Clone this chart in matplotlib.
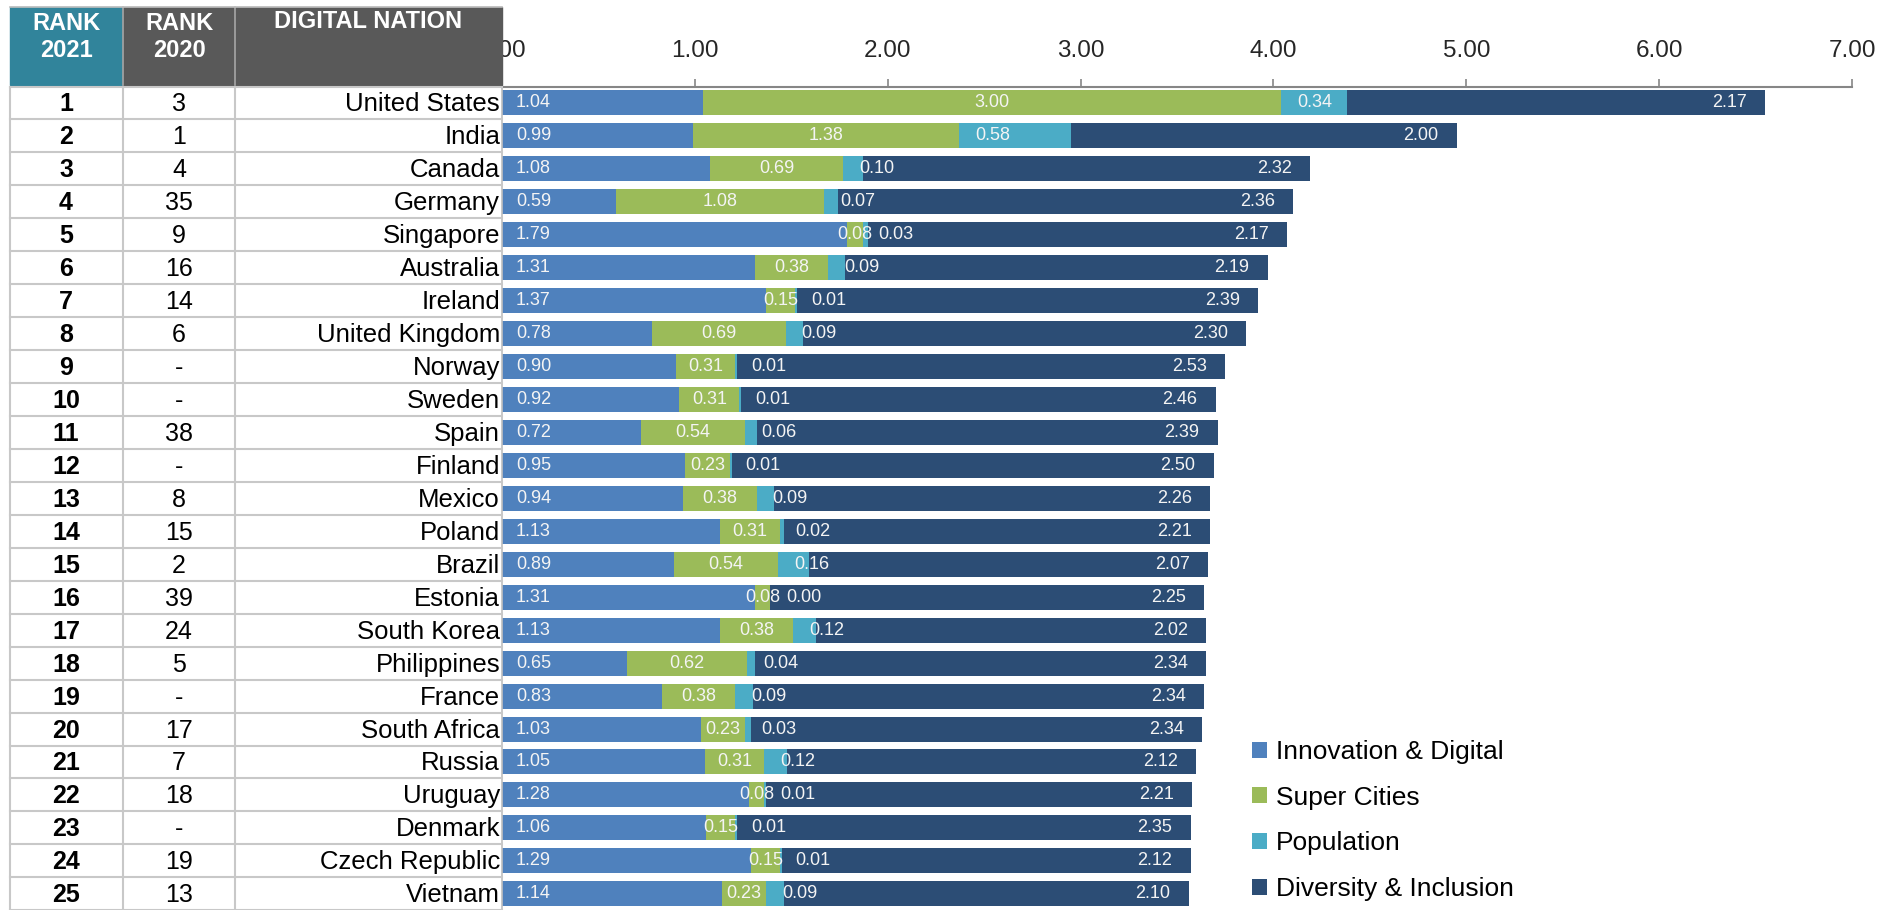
# Digital nations 2021 - stacked score bars with rank table

import numpy as np
import matplotlib.pyplot as plt
from matplotlib.patches import Rectangle
from matplotlib.ticker import FormatStrFormatter

# ---- data ----
rank_2021 = [1, 2, 3, 4, 5, 6, 7, 8, 9, 10, 11, 12, 13,
             14, 15, 16, 17, 18, 19, 20, 21, 22, 23, 24, 25]
rank_2020 = ["3", "1", "4", "35", "9", "16", "14", "6", "-", "-", "38", "-", "8",
             "15", "2", "39", "24", "5", "-", "17", "7", "18", "-", "19", "13"]
nations = ["United States", "India", "Canada", "Germany", "Singapore", "Australia",
           "Ireland", "United Kingdom", "Norway", "Sweden", "Spain", "Finland",
           "Mexico", "Poland", "Brazil", "Estonia", "South Korea", "Philippines",
           "France", "South Africa", "Russia", "Uruguay", "Denmark",
           "Czech Republic", "Vietnam"]

innovation = [1.04, 0.99, 1.08, 0.59, 1.79, 1.31, 1.37, 0.78, 0.90, 0.92, 0.72, 0.95, 0.94,
              1.13, 0.89, 1.31, 1.13, 0.65, 0.83, 1.03, 1.05, 1.28, 1.06, 1.29, 1.14]
super_cities = [3.00, 1.38, 0.69, 1.08, 0.08, 0.38, 0.15, 0.69, 0.31, 0.31, 0.54, 0.23, 0.38,
                0.31, 0.54, 0.08, 0.38, 0.62, 0.38, 0.23, 0.31, 0.08, 0.15, 0.15, 0.23]
population = [0.34, 0.58, 0.10, 0.07, 0.03, 0.09, 0.01, 0.09, 0.01, 0.01, 0.06, 0.01, 0.09,
              0.02, 0.16, 0.00, 0.12, 0.04, 0.09, 0.03, 0.12, 0.01, 0.01, 0.01, 0.09]
diversity = [2.17, 2.00, 2.32, 2.36, 2.17, 2.19, 2.39, 2.30, 2.53, 2.46, 2.39, 2.50, 2.26,
             2.21, 2.07, 2.25, 2.02, 2.34, 2.34, 2.34, 2.12, 2.21, 2.35, 2.12, 2.10]

series_names = ["Innovation & Digital", "Super Cities", "Population", "Diversity & Inclusion"]
series_colors = ["#4F81BD", "#9BBB59", "#4BACC6", "#2C4D75"]
x_ticks = [0, 1, 2, 3, 4, 5, 6, 7]

narrow = ["Liberation Sans Narrow", "Liberation Sans", "DejaVu Sans"]
arial = ["Liberation Sans", "DejaVu Sans"]

W, H = 1892, 910
row_top, row_h = 86.5, 32.95
n = len(nations)

fig = plt.figure(figsize=(W / 100, H / 100), dpi=100)

# ---- bar chart ----
bottom_px = row_top + n * row_h
ax = fig.add_axes([502 / W, (H - bottom_px) / H, 1350 / W, (bottom_px - row_top) / H])
y = np.arange(n)
series = [innovation, super_cities, population, diversity]
left = np.zeros(n)
bars = []
for vals, name, col in zip(series, series_names, series_colors):
    b = ax.barh(y, vals, left=left, height=0.76, color=col, label=name)
    bars.append(b)
    left = left + np.array(vals)

lab_kw = dict(color="#F4F4F4", fontsize=13, family=narrow, va="center")
for i in range(n):
    x0 = 0
    ax.annotate(f"{innovation[i]:.2f}", (x0, y[i]), xytext=(10, 0),
                textcoords="offset points", ha="left", **lab_kw)
    x0 += innovation[i]
    ax.annotate(f"{super_cities[i]:.2f}", (x0 + super_cities[i] / 2, y[i]),
                ha="center", **lab_kw)
    x0 += super_cities[i]
    ax.annotate(f"{population[i]:.2f}", (x0, y[i]), xytext=(11.5, 0),
                textcoords="offset points", ha="left", **lab_kw)
    x0 += population[i]
    ax.annotate(f"{diversity[i]:.2f}", (x0 + diversity[i], y[i]), xytext=(-13, 0),
                textcoords="offset points", ha="right", **lab_kw)

ax.set_xlim(0, 7)
ax.set_ylim(n - 0.5, -0.5)
ax.set_xticks(x_ticks)
ax.xaxis.set_major_formatter(FormatStrFormatter("%.2f"))
ax.xaxis.tick_top()
ax.tick_params(axis="x", length=5.8, width=1.2, color="#868686", pad=12,
               labelsize=17.5, labelcolor="#262626")
for lbl in ax.get_xticklabels():
    lbl.set_family(narrow)
ax.set_yticks([])
for s in ["bottom", "right"]:
    ax.spines[s].set_visible(False)
ax.spines["top"].set_color("#868686")
ax.spines["top"].set_linewidth(1.5)
ax.spines["left"].set_color("#BFBFBF")
ax.spines["left"].set_linewidth(1.2)

# ---- rank table (pixel coordinates, drawn over the axis) ----
tax = fig.add_axes([0, 0, 1, 1])
tax.set_xlim(0, W)
tax.set_ylim(H, 0)
tax.axis("off")

tax.add_patch(Rectangle((10, 7), 113, 78, color="#31849B"))
tax.add_patch(Rectangle((123, 7), 112, 78, color="#595959"))
tax.add_patch(Rectangle((235, 7), 267, 78, color="#595959"))
tax.plot([123, 123], [7, 85], color="#A6A6A6", lw=1.2)
tax.plot([235, 235], [7, 85], color="#A6A6A6", lw=1.2)
tax.plot([10, 502], [7, 7], color="#BFBFBF", lw=1.2)

hdr = dict(color="white", fontweight="bold", fontsize=17, family=arial,
           ha="center", va="center", linespacing=1.25)
tax.text(66, 37, "RANK\n2021", **hdr)
tax.text(179, 37, "RANK\n2020", **hdr)
tax.text(368, 22, "DIGITAL NATION", **hdr)

for i in range(n + 1):
    yy = row_top + i * row_h
    tax.plot([10, 502], [yy, yy], color="#C8C8C8", lw=1.5)
for xx in [10, 123, 235]:
    tax.plot([xx, xx], [row_top, H], color="#C8C8C8", lw=1.5)

for i in range(n):
    yc = row_top + (i + 0.5) * row_h + 1.5
    tax.text(66, yc, str(rank_2021[i]), ha="center", va="center",
             fontsize=18, fontweight="bold", family=arial, color="black")
    tax.text(179, yc, rank_2020[i], ha="center", va="center",
             fontsize=18, family=arial, color="black")
    tax.text(500, yc, nations[i], ha="right", va="center",
             fontsize=18.5, family=arial, color="black")

# ---- legend ----
fig.legend(handles=bars, labels=series_names, loc="upper left",
           bbox_to_anchor=(1252 / W, 1 - 740 / H), frameon=False,
           prop={"family": narrow, "size": 19}, handlelength=0.55, handleheight=0.55,
           handletextpad=0.35, labelspacing=0.82, borderpad=0, borderaxespad=0)

fig.savefig("out.png", dpi=100)
